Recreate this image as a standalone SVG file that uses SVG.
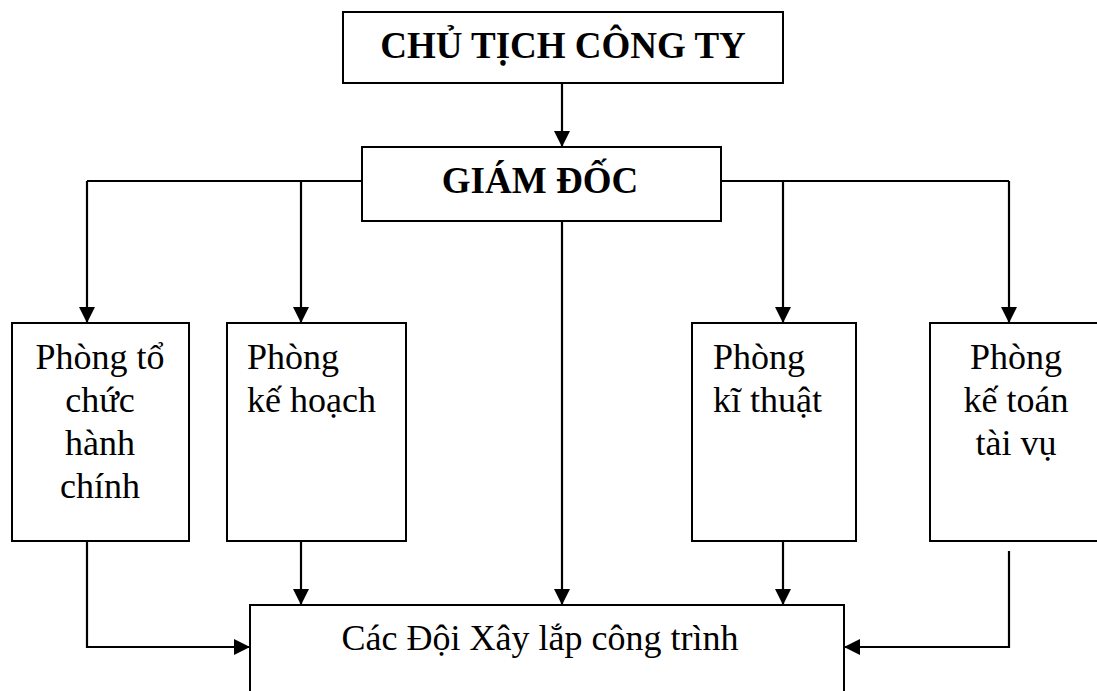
<svg xmlns="http://www.w3.org/2000/svg" width="1097" height="691" viewBox="0 0 1097 691">
<defs>
<marker id="arr" markerUnits="userSpaceOnUse" markerWidth="16" markerHeight="16" viewBox="0 0 16 16" refX="16" refY="8" orient="auto">
<path d="M0,0 L16,8 L0,16 Z" fill="#000"/>
</marker>
<style>
.box{fill:#fff;stroke:#000;stroke-width:2}
.ln{fill:none;stroke:#000;stroke-width:2.2}
.ar{fill:none;stroke:#000;stroke-width:2.2;marker-end:url(#arr)}
.t{font-family:"Liberation Serif","Times New Roman",serif;font-size:36px;fill:#000}
.b{font-family:"Liberation Serif","Times New Roman",serif;font-size:37px;font-weight:bold;fill:#000}
.c{text-anchor:middle}
</style>
</defs>
<rect width="1097" height="691" fill="#fff"/>
<g id="connectors">
<path class="ar" d="M562,83 L562,147"/>
<path class="ln" d="M362,181 L87,181"/>
<path class="ar" d="M87,181 L87,323"/>
<path class="ar" d="M301,181 L301,323"/>
<path class="ln" d="M721,181 L1009,181"/>
<path class="ar" d="M1009,181 L1009,323"/>
<path class="ar" d="M783,181 L783,323"/>
<path class="ar" d="M562,221 L562,605"/>
<path class="ar" d="M87,541 L87,647 L250,647"/>
<path class="ar" d="M301,541 L301,605"/>
<path class="ar" d="M783,541 L783,605"/>
<path class="ar" d="M1009,551 L1009,647 L844,647"/>
</g>
<g id="chu-tich">
<rect class="box" x="343" y="12" width="440" height="71"/>
<text class="b c" x="563" y="58">CHỦ TỊCH CÔNG TY</text>
</g>
<g id="giam-doc">
<rect class="box" x="362" y="147" width="359" height="74"/>
<text class="b c" x="540" y="193">GIÁM ĐỐC</text>
</g>
<g id="phong-tchc">
<rect class="box" x="12" y="323" width="177" height="218"/>
<text class="t c" x="100" y="369">Phòng tổ</text>
<text class="t c" x="100" y="412">chức</text>
<text class="t c" x="100" y="455">hành</text>
<text class="t c" x="100" y="498">chính</text>
</g>
<g id="phong-kh">
<rect class="box" x="227" y="323" width="179" height="218"/>
<text class="t" x="247" y="369">Phòng</text>
<text class="t" x="247" y="412">kế hoạch</text>
</g>
<g id="phong-kt">
<rect class="box" x="692" y="323" width="164" height="218"/>
<text class="t" x="713" y="369">Phòng</text>
<text class="t" x="713" y="412">kĩ thuật</text>
</g>
<g id="phong-ktv">
<rect class="box" x="930" y="323" width="172" height="218"/>
<text class="t c" x="1016" y="369">Phòng</text>
<text class="t c" x="1016" y="412">kế toán</text>
<text class="t c" x="1016" y="455">tài vụ</text>
</g>
<g id="cac-doi">
<rect class="box" x="250" y="605" width="594" height="100"/>
<text class="t c" x="540" y="650">Các Đội Xây lắp công trình</text>
</g>
</svg>
